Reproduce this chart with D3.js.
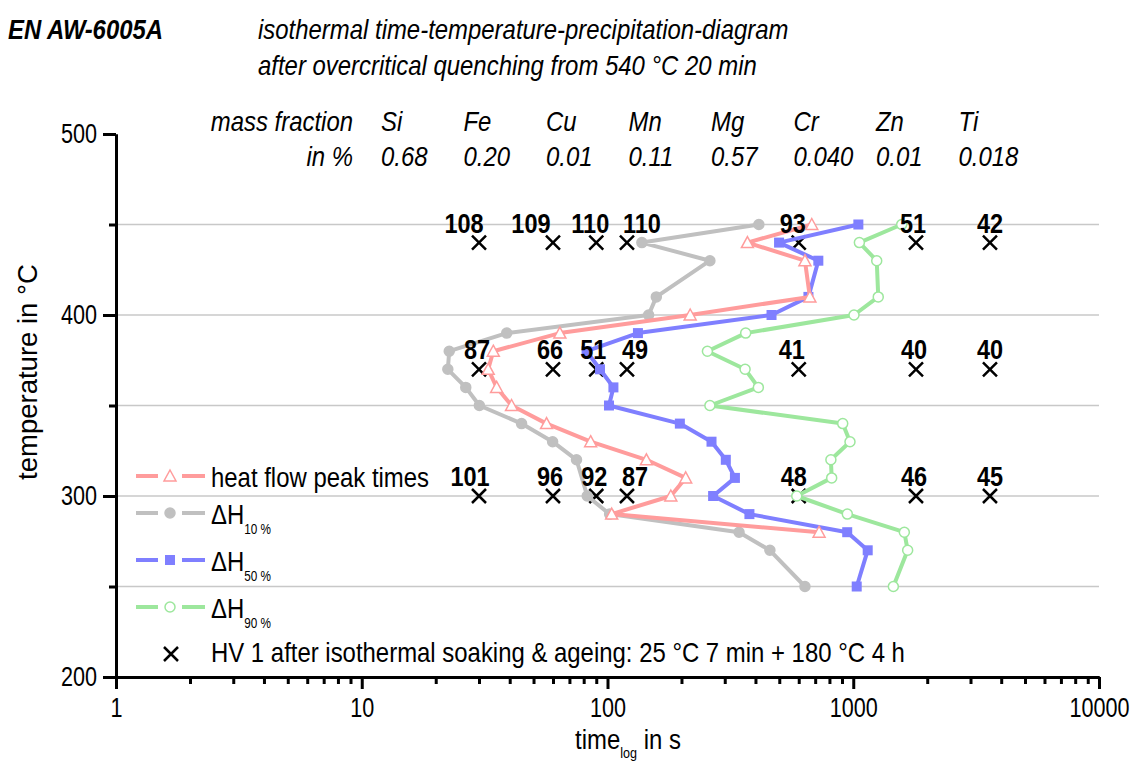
<!DOCTYPE html>
<html>
<head>
<meta charset="utf-8">
<script src="https://cdn.jsdelivr.net/npm/d3@7"></script>
<style>
  body { margin: 0; padding: 0; background: #fff; }
  svg { display: block; }
  text { font-family: "Liberation Sans", Arial, sans-serif; fill: #000; }
</style>
</head>
<body>
<div id="main"></div>
<script>
// ---- data ----
const elements = ['Si', 'Fe', 'Cu', 'Mn', 'Mg', 'Cr', 'Zn', 'Ti'];
const fractions = ['0.68', '0.20', '0.01', '0.11', '0.57', '0.040', '0.01', '0.018'];

const heatFlowTemps = [450, 440, 430, 410, 400, 390, 380, 370, 360, 350, 340, 330, 320, 310, 300, 290, 280];
const heatFlowTimes = [678, 371, 636, 666, 217, 64, 34.3, 32.7, 35.4, 40.7, 56.5, 85.4, 144, 208, 181, 104, 726];

const dH10Temps = [450, 440, 430, 410, 400, 390, 380, 370, 360, 350, 340, 330, 320, 300, 290, 280, 270, 250];
const dH10Times = [413, 138, 261, 158, 147, 38.9, 22.7, 22.4, 26.5, 30.1, 44.7, 59.8, 74.8, 82.7, 102, 343, 458, 636];

const dH50Temps = [450, 440, 430, 410, 400, 390, 380, 370, 360, 350, 340, 330, 320, 310, 300, 290, 280, 270, 250];
const dH50Times = [1049, 499, 721, 657, 465, 133, 82.2, 93.2, 105.7, 101.4, 197, 265, 303, 330, 269, 378, 945, 1145, 1033];

const dH90Temps = [450, 440, 430, 410, 400, 390, 380, 370, 360, 350, 340, 330, 320, 310, 300, 290, 280, 270, 250];
const dH90Times = [1574, 1059, 1246, 1264, 1007, 365, 255, 363, 411, 261, 906, 970, 811, 817, 589, 946, 1614, 1665, 1456];

const hvTimes = [30, 60, 90, 120, 600, 1800, 3600];
const hvTemps = [440, 370, 300];
const hvValues = [
    [108, 109, 110, 110, 93, 51, 42],
    [87, 66, 51, 49, 41, 40, 40],
    [101, 96, 92, 87, 48, 46, 45]
];

const xMajorTicks = [1, 10, 100, 1000, 10000];
const yMajorTicks = [200, 300, 400, 500];
const yMinorTicks = [250, 350, 450];
const gridTemps = [250, 300, 350, 400, 450];

// ---- layout ----
const WIDTH = 1130;
const HEIGHT = 762;
const LEFT = 116, RIGHT = 1099, TOP = 134, BOTTOM = 677;
const FS = 28.5;      // main text size
const SX = 0.84;      // horizontal squeeze to mimic a narrow face
// label nudges (px, relative to the cross) so the HV numbers sit like in the original
const hvLabelDx = [
    [-15, -22, -6, 15, -6, -3, 0],
    [-2, -3, -3, 8, -7, -2, 0],
    [-9, -3, -2, 8, -5, -2, 0]
];

const svg = d3.select('#main').append('svg').attr('width', WIDTH).attr('height', HEIGHT);

const scaleX = d3.scaleLog().domain([1, 10000]).range([LEFT, RIGHT]);
const scaleY = d3.scaleLinear().domain([200, 500]).range([BOTTOM, TOP]);

const addText = (parent, x, y, str, size) => parent.append('g')
    .attr('transform', `translate(${x},${y}) scale(${SX},1)`)
    .append('text').attr('font-size', size).text(str);

// header
addText(svg, 8, 39, 'EN AW-6005A', FS).attr('font-weight', 'bold').attr('font-style', 'italic');
addText(svg, 258, 39, 'isothermal time-temperature-precipitation-diagram', FS).attr('font-style', 'italic');
addText(svg, 258, 75, 'after overcritical quenching from 540 °C 20 min', FS).attr('font-style', 'italic');
addText(svg, 353, 131, 'mass fraction', FS).attr('font-style', 'italic').attr('text-anchor', 'end');
addText(svg, 353, 166, 'in %', FS).attr('font-style', 'italic').attr('text-anchor', 'end');

const comp = svg.append('g').attr('font-size', FS).attr('font-style', 'italic');
comp.selectAll('.el').data(elements).enter().append('text').attr('class', 'el')
    .attr('transform', (d, i) => `translate(${381 + i * 82.5},131) scale(${SX},1)`).text((d) => d);
comp.selectAll('.fr').data(fractions).enter().append('text').attr('class', 'fr')
    .attr('transform', (d, i) => `translate(${381 + i * 82.5},166) scale(${SX},1)`).text((d) => d);

// grid
svg.append('g').selectAll('line').data(gridTemps).enter().append('line')
    .attr('x1', LEFT).attr('x2', RIGHT)
    .attr('y1', (d) => scaleY(d)).attr('y2', (d) => scaleY(d))
    .attr('stroke', '#c8c8c8').attr('stroke-width', 1.5);

// axes
const xMinor = [];
for (let dec = 1; dec < 10000; dec *= 10) {
    for (let k = 2; k <= 9; k++) xMinor.push(dec * k);
}
const axisXMinor = d3.axisBottom(scaleX).tickValues(xMinor).tickSize(7).tickSizeOuter(0).tickFormat('');
const axisXMajor = d3.axisBottom(scaleX).tickValues(xMajorTicks).tickSize(12).tickSizeOuter(0).tickFormat(d3.format('d')).tickPadding(9);
const axisYMinor = d3.axisLeft(scaleY).tickValues(yMinorTicks).tickSize(7).tickSizeOuter(0).tickFormat('');
const axisYMajor = d3.axisLeft(scaleY).tickValues(yMajorTicks).tickSize(13).tickSizeOuter(0).tickFormat(d3.format('d'));

const styleAxis = (g) => {
    g.select('.domain').attr('stroke', '#000').attr('stroke-width', 3);
    g.selectAll('.tick line').attr('stroke', '#000').attr('stroke-width', 3);
    g.selectAll('.tick text').attr('font-size', 27).attr('font-family', null).attr('fill', '#000')
        .attr('transform', 'scale(0.8,1)');
};
svg.append('g').attr('transform', `translate(0,${BOTTOM})`).call(axisXMinor).call(styleAxis);
svg.append('g').attr('transform', `translate(0,${BOTTOM})`).call(axisXMajor).call(styleAxis);
svg.append('g').attr('transform', `translate(${LEFT},0)`).call(axisYMinor).call(styleAxis);
svg.append('g').attr('transform', `translate(${LEFT},0)`).call(axisYMajor).call(styleAxis)
    .selectAll('.tick text').attr('x', -19 / 0.8);

// axis titles
const xTitle = addText(svg, 575, 749, null, FS);
xTitle.append('tspan').text('time');
xTitle.append('tspan').attr('font-size', 15).attr('dy', 9).text('log');
xTitle.append('tspan').attr('dy', -9).text(' in s');
svg.append('text').attr('transform', 'translate(37,372) rotate(-90)').attr('font-size', 27.5)
    .attr('text-anchor', 'middle').text('temperature in °C');

// HV crosses
const crossPath = (s) => `M${-s},${-s}L${s},${s}M${-s},${s}L${s},${-s}`;
const hvPoints = [];
hvTemps.forEach((t, r) => hvTimes.forEach((tm, c) => hvPoints.push({t: t, time: tm, hv: hvValues[r][c], dx: hvLabelDx[r][c]})));
svg.append('g').selectAll('path').data(hvPoints).enter().append('path')
    .attr('transform', (d) => `translate(${scaleX(d.time)},${scaleY(d.t)})`)
    .attr('d', crossPath(7)).attr('stroke', '#000').attr('stroke-width', 2.5).attr('fill', 'none');

// series
const series = [
    {name: 'dH90', temps: dH90Temps, times: dH90Times, color: '#9de79d', marker: 'circle', fill: '#fff'},
    {name: 'dH50', temps: dH50Temps, times: dH50Times, color: '#7f7fff', marker: 'square', fill: '#7f7fff'},
    {name: 'dH10', temps: dH10Temps, times: dH10Times, color: '#c0c0c0', marker: 'circle', fill: '#c0c0c0'},
    {name: 'heat', temps: heatFlowTemps, times: heatFlowTimes, color: '#ff9c9c', marker: 'triangle', fill: '#fff'}
];
const line = d3.line().x((d) => scaleX(d[1])).y((d) => scaleY(d[0]));
const drawMarker = (g, s) => {
    if (s.marker === 'circle') {
        g.append('circle').attr('r', 5).attr('fill', s.fill).attr('stroke', s.color).attr('stroke-width', 1.5);
    } else if (s.marker === 'square') {
        g.append('rect').attr('x', -5).attr('y', -5).attr('width', 10).attr('height', 10).attr('fill', s.fill);
    } else {
        g.append('path').attr('d', 'M0,-6L6,5L-6,5Z').attr('fill', s.fill).attr('stroke', s.color).attr('stroke-width', 1.5);
    }
};
series.forEach((s) => {
    const pts = s.temps.map((t, i) => [t, s.times[i]]);
    const g = svg.append('g');
    g.append('path').datum(pts).attr('d', line).attr('fill', 'none')
        .attr('stroke', s.color).attr('stroke-width', 4).attr('stroke-linejoin', 'round');
    g.selectAll('g').data(pts).enter().append('g')
        .attr('transform', (d) => `translate(${scaleX(d[1])},${scaleY(d[0])})`)
        .each(function () { drawMarker(d3.select(this), s); });
});

// HV labels
svg.append('g').selectAll('text').data(hvPoints).enter().append('text')
    .attr('transform', (d) => `translate(${scaleX(d.time) + d.dx},${scaleY(d.t) - 10}) scale(${SX},1)`)
    .attr('text-anchor', 'middle').attr('font-size', 28).attr('font-weight', 'bold').text((d) => d.hv);

// legend
const legendRows = [
    {s: series[3], y: 476, label: 'heat flow peak times'},
    {s: series[2], y: 513, label: 'ΔH', sub: '10 %'},
    {s: series[1], y: 560, label: 'ΔH', sub: '50 %'},
    {s: series[0], y: 607, label: 'ΔH', sub: '90 %'}
];
legendRows.forEach((r) => {
    const g = svg.append('g');
    g.append('line').attr('x1', 136).attr('x2', 158).attr('y1', r.y).attr('y2', r.y)
        .attr('stroke', r.s.color).attr('stroke-width', 4);
    g.append('line').attr('x1', 182).attr('x2', 205).attr('y1', r.y).attr('y2', r.y)
        .attr('stroke', r.s.color).attr('stroke-width', 4);
    drawMarker(g.append('g').attr('transform', `translate(170,${r.y})`), r.s);
    const t = addText(g, 211, r.y + 11, null, FS);
    t.append('tspan').text(r.label);
    if (r.sub) t.append('tspan').attr('font-size', 14).attr('dy', 10).text(r.sub);
});
svg.append('path').attr('transform', 'translate(171,654)').attr('d', crossPath(7))
    .attr('stroke', '#000').attr('stroke-width', 2.5).attr('fill', 'none');
addText(svg, 211, 662, 'HV 1 after isothermal soaking & ageing: 25 °C 7 min + 180 °C 4 h', FS);
</script>
</body>
</html>
